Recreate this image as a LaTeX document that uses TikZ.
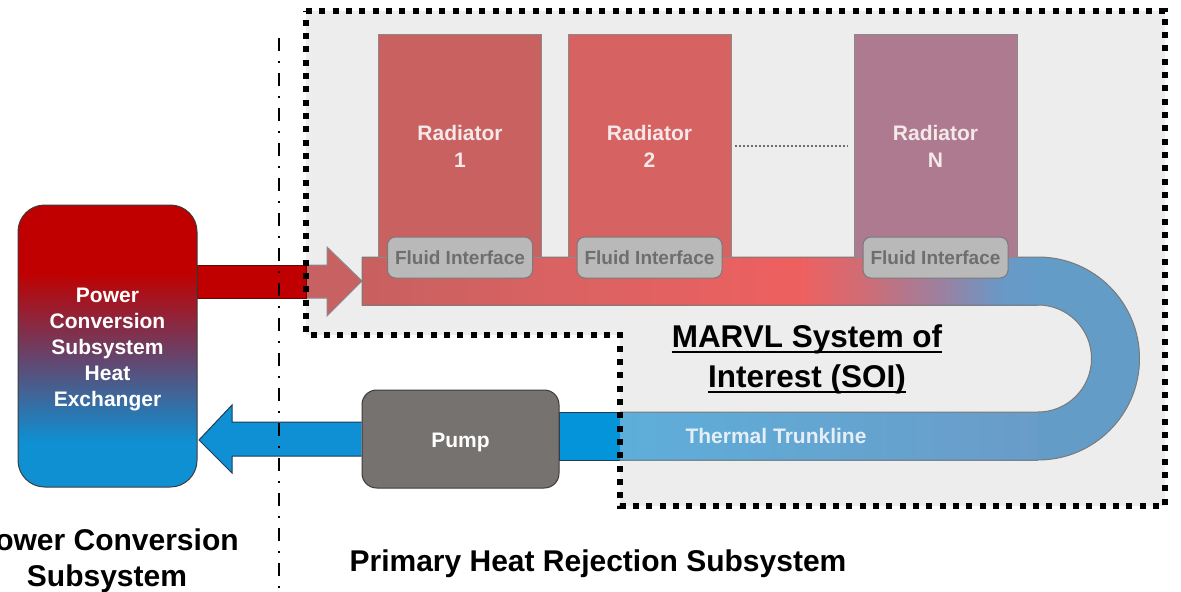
\documentclass[tikz,border=0pt]{standalone}
\usepackage{fontspec}
\setmainfont{Liberation Sans}
\usepackage{tikz}
\usetikzlibrary{backgrounds,positioning}
\definecolor{hotred}{HTML}{C00000}
\definecolor{darkred}{HTML}{5C0A0A}
\definecolor{arrowpink}{HTML}{C86262}
\definecolor{greyedge}{HTML}{8A8A8A}
\definecolor{hxblue}{HTML}{0E90D2}
\definecolor{hxpurple}{HTML}{66446C}
\definecolor{coldarrow}{HTML}{1090D4}
\definecolor{coldedge}{HTML}{203C58}
\definecolor{pumpgray}{HTML}{767270}
\definecolor{pumpedge}{HTML}{3C3C3C}
\definecolor{pipeblue}{HTML}{0494DA}
\definecolor{soigray}{HTML}{EDEDED}
\definecolor{rad1fill}{HTML}{C96161}
\definecolor{rad2fill}{HTML}{D66262}
\definecolor{radNfill}{HTML}{AD7A8F}
\definecolor{radtext}{HTML}{F4E8E8}
\definecolor{fluidgray}{HTML}{B9B9B9}
\definecolor{fluidedge}{HTML}{7A7A7A}
\definecolor{fluidtext}{HTML}{6E6E6E}
\definecolor{trunk1}{HTML}{C86060}
\definecolor{trunk2}{HTML}{DA6262}
\definecolor{trunk3}{HTML}{EE6060}
\definecolor{trunk4}{HTML}{CC6E78}
\definecolor{trunk5}{HTML}{9C80A0}
\definecolor{trunk6}{HTML}{6A98C6}
\definecolor{coldblue}{HTML}{649CC8}
\definecolor{trunkleft}{HTML}{5EAEDA}
\definecolor{trunkright}{HTML}{6A9CC8}
\definecolor{trunktext}{HTML}{E4EEF6}
\pgfdeclareverticalshading{hxshade}{100bp}{color(0bp)=(hxblue); color(33bp)=(hxblue); color(48bp)=(hxpurple); color(63bp)=(hotred); color(100bp)=(hotred)}
\pgfdeclarehorizontalshading{trunkshade}{100bp}{color(0bp)=(trunk1); color(25bp)=(trunk1); color(39.6bp)=(trunk2); color(57.4bp)=(trunk3); color(62.6bp)=(trunk4); color(67.8bp)=(trunk5); color(72.2bp)=(trunk6); color(75bp)=(coldblue); color(100bp)=(coldblue)}

\begin{document}
\begin{tikzpicture}[x=0.75pt, y=-0.75pt,
  txt/.style = {font=\bfseries\fontsize{15.75}{20.25}\selectfont, align=center},
  bigtxt/.style = {font=\bfseries\fontsize{22.5}{27}\selectfont, align=center},
  soitxt/.style = {font=\bfseries\fontsize{23.6}{29.25}\selectfont, inner sep=0pt, anchor=base},
  radbox/.style = {txt, draw=greyedge, line width=0.75pt, text=radtext,
    minimum width=122.25pt, minimum height=166.5pt, inner sep=0pt},
  fluidbox/.style = {draw=fluidedge, fill=fluidgray, rounded corners=6pt, line width=0.75pt,
    minimum width=108.75pt, minimum height=30.75pt, inner sep=0pt, text=fluidtext,
    font=\bfseries\fontsize{14.25}{17}\selectfont},
  pipeedge/.style = {draw=fluidedge, line width=0.75pt},
  soiborder/.style = {line width=4.5pt, dash pattern=on 4.5pt off 5.5pt}]

\useasboundingbox (0,0) rectangle (1181,592);
\clip (0,0) rectangle (1181,592);

% radiators
\node[radbox, fill=rad1fill] (rad1) at (460,146) {Radiator\\1};
\node[radbox, fill=rad2fill] (rad2) at (649.5,146) {Radiator\\2};
\node[radbox, fill=radNfill] (radN) at (935.5,146) {Radiator\\N};
\draw[draw=fluidtext, line width=1.5pt, dash pattern=on 1.5pt off 1.5pt]
  ([xshift=2.25pt]rad2.east) -- ([xshift=-4.5pt]radN.west);

\node[fluidbox] (fi1) at (rad1.south) {Fluid Interface};
\node[fluidbox] (fi2) at (rad2.south) {Fluid Interface};
\node[fluidbox] (fiN) at (radN.south) {Fluid Interface};

% heat exchanger and pump
\node[shading=hxshade, draw=pumpedge, line width=0.75pt, rounded corners=20pt,
  minimum width=134.25pt, minimum height=211.5pt] (hx) at (107.5,346) {};
\node[txt, text=white, font=\bfseries\fontsize{15.75}{19.35}\selectfont] (hxlabel)
  at ([yshift=-2.6pt]hx.center) {Power\\Conversion\\Subsystem\\Heat\\Exchanger};
\node[fill=pumpgray, draw=pumpedge, line width=0.75pt, rounded corners=11pt,
  minimum width=147.75pt, minimum height=73.5pt] (pump) at (460.5,439) {};
\node[txt, text=white] (pumplabel) at ([yshift=-2.25pt]pump.center) {Pump};

\begin{scope}[on background layer]
% system of interest area
\fill[soigray] (306,11) -- (1165,11) -- (1165,506) -- (620,506) -- (620,335) -- (306,335) -- cycle;

% hot leg into the trunkline
\filldraw[fill=arrowpink, draw=greyedge, line width=0.75pt]
  (306,265) -- (327,265) -- (327,247) -- (362,281) -- (327,316) -- (327,298) -- (306,298);
\filldraw[fill=hotred, draw=darkred, line width=0.75pt] (hx.east |- 0,265) rectangle (306,298);

% cold leg back to the heat exchanger
\filldraw[fill=coldarrow, draw=coldedge, line width=0.75pt]
  (pump.west |- 0,422) -- (232,422) -- (232,405) -- (199,440) -- (232,473) -- (232,456) -- (pump.west |- 0,456);
\filldraw[fill=pipeblue, draw=coldedge, line width=0.75pt] (pump.east |- 0,412) rectangle (620,460);

% thermal trunkline
\fill[shading=trunkshade] (362,257) rectangle (1038,305);
\fill[coldblue] (1038,257) arc[start angle=90, end angle=-90, radius=76.125pt]
  -- (1038,412) arc[start angle=-90, end angle=90, radius=40.125pt] -- cycle;
\fill[left color=trunkleft, right color=trunkright] (620,412) rectangle (1038,460);
\draw[pipeedge] (362,257) -- (1038,257) arc[start angle=90, end angle=-90, radius=76.125pt] -- (620,460);
\draw[pipeedge] (620,412) -- (1038,412) arc[start angle=-90, end angle=90, radius=40.125pt]
  -- (362,305) -- (362,257);
\end{scope}

\node[txt, text=trunktext] (trunk) at (776,436) {Thermal Trunkline};

% boundaries
\draw[soiborder] (306,11) -- (1165,11) -- (1165,506) -- (620,506) -- (620,335) -- (306,335) -- cycle;
\draw[line width=1.5pt, dash pattern=on 9.75pt off 7.5pt on 1.5pt off 7.5pt] (279,38) -- (279,592);

% labels
\node[soitxt] (soi1) at (807,347) {MARVL System of};
\node[soitxt] (soi2) at (807,387) {Interest (SOI)};
\draw[line width=1.5pt] ([yshift=-3.5pt]soi1.base west) -- ([yshift=-3.5pt]soi1.base east);
\draw[line width=1.5pt] ([yshift=-3.5pt]soi2.base west) -- ([yshift=-3.5pt]soi2.base east);
\node[bigtxt] (pcs) at (107,561) {Power Conversion\\Subsystem};
\node[bigtxt] (phrs) at (598,563.5) {Primary Heat Rejection Subsystem};

\end{tikzpicture}
\end{document}
